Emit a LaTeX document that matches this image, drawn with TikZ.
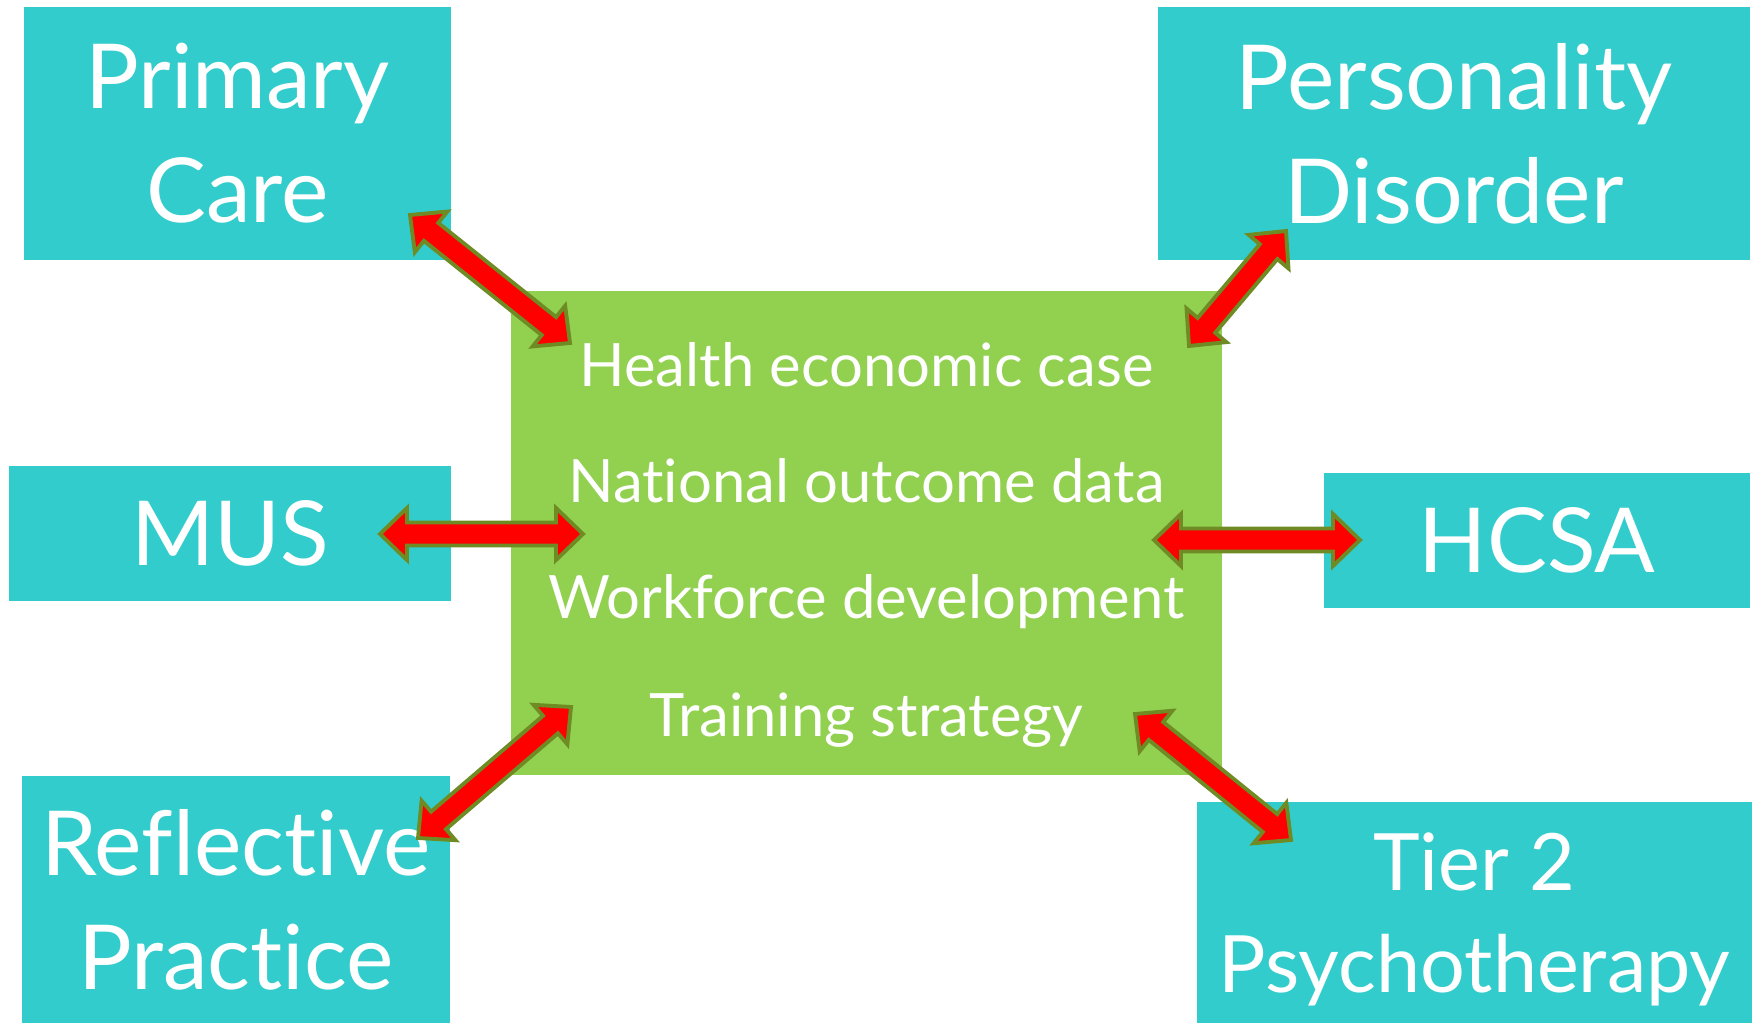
\documentclass[tikz,border=0pt]{standalone}
\usepackage{fontspec}
\setmainfont{Lato}[Ligatures={NoCommon}]
\usetikzlibrary{calc}
\definecolor{boxteal}{RGB}{51,204,204}
\definecolor{hubgreen}{RGB}{146,208,80}
\definecolor{arrowolive}{RGB}{110,140,35}
\begin{document}
\begin{tikzpicture}[x=0.01cm,y=-0.01cm]
        % Styles
        \tikzstyle{side box}=[fill=boxteal,text=white,align=center,inner sep=0pt,font=\fontsize{25.5}{32.5}\selectfont]
        \tikzstyle{hub box}=[fill=hubgreen,inner sep=0pt]
        \tikzstyle{hub text}=[text=white,inner sep=0pt,anchor=base,font=\fontsize{17}{20}\selectfont]
        \tikzstyle{fat arrow}=[fill=red,draw=arrowolive,line width=1.1pt]
        %The graphic
        \useasboundingbox (0,0) rectangle (1761,1025);
        %boxes
        \node[style=side box,minimum width=4.27cm,minimum height=2.53cm] (pc) at (237.5,133.5) {Primary\\Care};
        \node[style=side box,minimum width=5.92cm,minimum height=2.53cm] (pd) at (1454,133.5) {Personality\\Disorder};
        \node[style=side box,minimum width=4.42cm,minimum height=1.35cm] (mus) at (230,533.5) {MUS};
        \node[style=side box,minimum width=4.26cm,minimum height=1.35cm] (hcsa) at (1537,540.5) {HCSA};
        \node[style=side box,minimum width=4.28cm,minimum height=2.47cm] (rp) at (236,899.5) {Reflective\\Practice};
        \node[style=side box,minimum width=5.55cm,minimum height=2.21cm,font=\fontsize{22.5}{29}\selectfont,text depth=-1.5pt] (t2) at (1474.5,912.5) {Tier 2\\Psychotherapy};
        \node[style=hub box,minimum width=7.11cm,minimum height=4.84cm] (hub) at (866.5,533) {};
        %hub lines
        \foreach \i/\ytext/\line in {1/387/Health economic case,2/503/National outcome data,3/619/Workforce development,4/736/Training strategy}
        \node[style=hub text] (item\i) at (866.5,\ytext) {\line};
        %arrow ends
        \coordinate (pc-end) at (410,215);
        \coordinate (hub-pc) at (570,343);
        \coordinate (pd-end) at (1286,231);
        \coordinate (hub-pd) at (1189,346);
        \coordinate (mus-end) at (380,534);
        \coordinate (hub-mus) at (583,534);
        \coordinate (hcsa-end) at (1360,540);
        \coordinate (hub-hcsa) at (1154,540);
        \coordinate (rp-end) at (418,838);
        \coordinate (hub-rp) at (571,707);
        \coordinate (t2-end) at (1291,840);
        \coordinate (hub-t2) at (1135,714);
        %arrows
        \foreach \a/\b in {pc-end/hub-pc,pd-end/hub-pd,mus-end/hub-mus,hcsa-end/hub-hcsa,rp-end/hub-rp,t2-end/hub-t2}
        \draw[style=fat arrow] (\a) -- ($(\a)!0.27cm!(\b)!0.26cm!90:(\b)$) -- ($(\a)!0.27cm!(\b)!0.115cm!90:(\b)$)
            -- ($(\b)!0.27cm!(\a)!0.115cm!-90:(\a)$) -- ($(\b)!0.27cm!(\a)!0.26cm!-90:(\a)$) -- (\b)
            -- ($(\b)!0.27cm!(\a)!0.26cm!90:(\a)$) -- ($(\b)!0.27cm!(\a)!0.115cm!90:(\a)$)
            -- ($(\a)!0.27cm!(\b)!0.115cm!-90:(\b)$) -- ($(\a)!0.27cm!(\b)!0.26cm!-90:(\b)$) -- cycle;
    \end{tikzpicture}
\end{document}
